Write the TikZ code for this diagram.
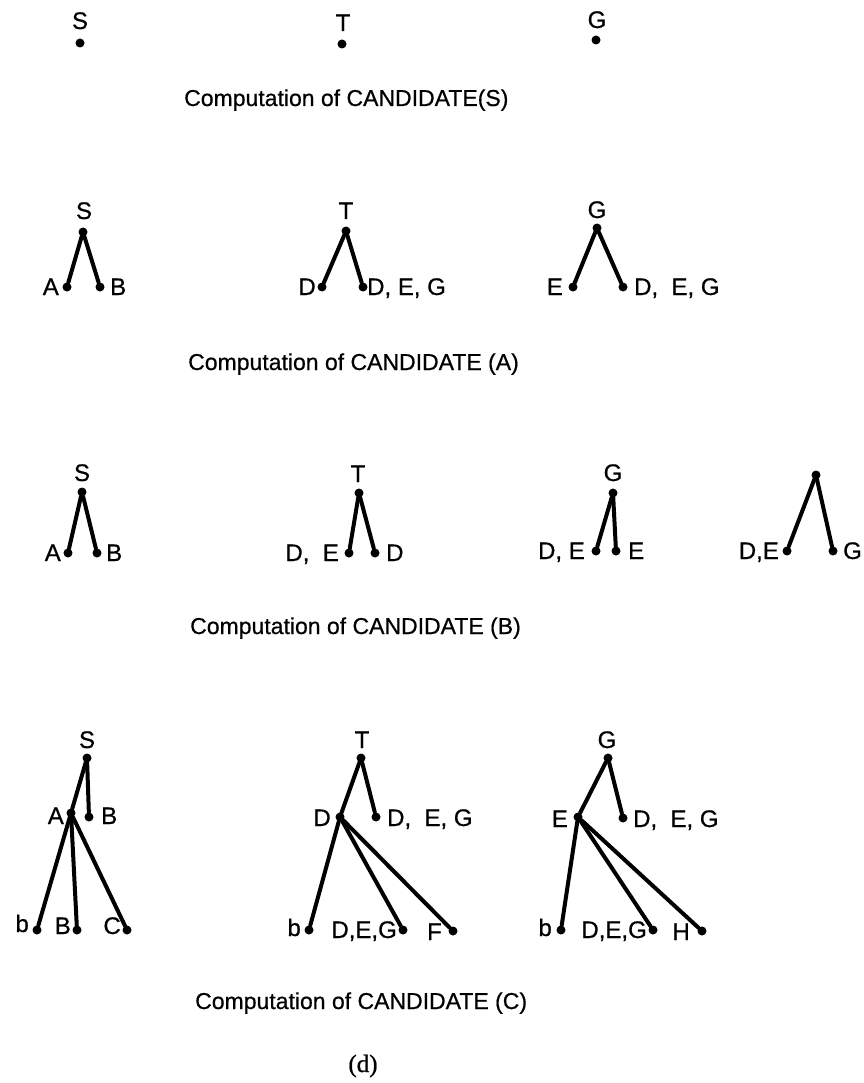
\documentclass[tikz,border=0pt]{standalone}
\usepackage{fontspec}
\setmainfont{Liberation Sans}
\newfontfamily\lblfont{Liberation Sans}[FakeBold=0.6]
\newfontfamily\capserif{Liberation Serif}[FakeBold=0.8]
\tikzset{
  dot/.style={circle, fill=black, inner sep=0pt, minimum size=9pt},
  edge/.style={line width=4pt, line cap=round},
  lbl/.style={font=\lblfont\fontsize{24}{26}\selectfont, inner sep=0pt, anchor=base},
  lbll/.style={lbl, anchor=base east},
  lblr/.style={lbl, anchor=base west},
  captxt/.style={font=\lblfont\fontsize{23}{25}\selectfont, inner sep=0pt, anchor=base west}
}
\begin{document}
\begin{tikzpicture}[x=1pt,y=-1pt]
\useasboundingbox (0,0) rectangle (863,1083);
% ---------- row 1 ----------
\node[dot] (s1) at (80,43) {};
\node[lbl] (s1l) at (80,29) {S};
\node[dot] (t1) at (342,44) {};
\node[lbl] (t1l) at (343,31) {T};
\node[dot] (g1) at (596,40) {};
\node[lbl] (g1l) at (597,28) {G};
\node[captxt] (capS) at (184,106) {Computation of CANDIDATE(S)};
% ---------- row 2 ----------
\node[dot] (s2) at (83,232) {};
\node[lbl] (s2l) at (84,219) {S};
\node[dot] (s2a) at (67,287) {};
\node[dot] (s2b) at (100,287) {};
\node[lbll] (s2al) at (59,295) {A};
\node[lblr] (s2bl) at (110,295) {B};
\draw[edge] (s2) -- (s2a);
\draw[edge] (s2) -- (s2b);
\node[dot] (t2) at (346,231) {};
\node[lbl] (t2l) at (346,219) {T};
\node[dot] (t2a) at (322,287) {};
\node[dot] (t2b) at (363,287) {};
\node[lbll] (t2al) at (316,295) {D};
\node[lblr] (t2bl) at (367,295) {D, E, G};
\draw[edge] (t2) -- (t2a);
\draw[edge] (t2) -- (t2b);
\node[dot] (g2) at (597,228) {};
\node[lbl] (g2l) at (597,218) {G};
\node[dot] (g2a) at (573,287) {};
\node[dot] (g2b) at (623,287) {};
\node[lbll] (g2al) at (563,295) {E};
\node[lblr] (g2bl) at (634,295) {D,\ \ E, G};
\draw[edge] (g2) -- (g2a);
\draw[edge] (g2) -- (g2b);
\node[captxt] (capA) at (188,370) {Computation of CANDIDATE (A)};
% ---------- row 3 ----------
\node[dot] (s3) at (82,492) {};
\node[lbl] (s3l) at (82,481) {S};
\node[dot] (s3a) at (68,553) {};
\node[dot] (s3b) at (97,553) {};
\node[lbll] (s3al) at (61,561) {A};
\node[lblr] (s3bl) at (106,561) {B};
\draw[edge] (s3) -- (s3a);
\draw[edge] (s3) -- (s3b);
\node[dot] (t3) at (359,493) {};
\node[lbl] (t3l) at (358,482) {T};
\node[dot] (t3a) at (349,553) {};
\node[dot] (t3b) at (375,553) {};
\node[lbll] (t3al) at (339,561) {D,\ \ E};
\node[lblr] (t3bl) at (386,561) {D};
\draw[edge] (t3) -- (t3a);
\draw[edge] (t3) -- (t3b);
\node[dot] (g3) at (613,493) {};
\node[lbl] (g3l) at (613,481) {G};
\node[dot] (g3a) at (596,551) {};
\node[dot] (g3b) at (616,551) {};
\node[lbll] (g3al) at (585,559) {D, E};
\node[lblr] (g3bl) at (628,559) {E};
\draw[edge] (g3) -- (g3a);
\draw[edge] (g3) -- (g3b);
\node[dot] (x3) at (816,475) {};
\node[dot] (x3a) at (787,551) {};
\node[dot] (x3b) at (833,551) {};
\node[lbll] (x3al) at (779,559) {D,E};
\node[lblr] (x3bl) at (843,559) {G};
\draw[edge] (x3) -- (x3a);
\draw[edge] (x3) -- (x3b);
\node[captxt] (capB) at (190,634) {Computation of CANDIDATE (B)};
% ---------- row 4 ----------
\node[dot] (s4) at (87,758) {};
\node[lbl] (s4l) at (87,748) {S};
\node[dot] (s4a) at (71,813) {};
\node[dot] (s4b) at (89,817) {};
\node[lbll] (s4al) at (64,824) {A};
\node[lblr] (s4bl) at (101,824) {B};
\node[dot] (s4c) at (37,930) {};
\node[dot] (s4d) at (77,930) {};
\node[dot] (s4e) at (127,930) {};
\node[lbll] (s4cl) at (29,932) {b};
\node[lbll] (s4dl) at (71,934) {B};
\node[lbll] (s4el) at (121,934) {C};
\draw[edge] (s4) -- (s4a);
\draw[edge] (s4) -- (s4b);
\draw[edge] (s4a) -- (s4c);
\draw[edge] (s4a) -- (s4d);
\draw[edge] (s4a) -- (s4e);
\node[dot] (t4) at (361,758) {};
\node[lbl] (t4l) at (362,748) {T};
\node[dot] (t4a) at (340,817) {};
\node[dot] (t4b) at (376,817) {};
\node[lbll] (t4al) at (331,826) {D};
\node[lblr] (t4bl) at (387,826) {D,\ \ E, G};
\node[dot] (t4c) at (309,930) {};
\node[dot] (t4d) at (403,930) {};
\node[dot] (t4e) at (453,931) {};
\node[lbll] (t4cl) at (301,936) {b};
\node[lbll] (t4dl) at (397,938) {D,E,G};
\node[lbll] (t4el) at (442,940) {F};
\draw[edge] (t4) -- (t4a);
\draw[edge] (t4) -- (t4b);
\draw[edge] (t4a) -- (t4c);
\draw[edge] (t4a) -- (t4d);
\draw[edge] (t4a) -- (t4e);
\node[dot] (g4) at (608,758) {};
\node[lbl] (g4l) at (607,748) {G};
\node[dot] (g4a) at (578,817) {};
\node[dot] (g4b) at (623,818) {};
\node[lbll] (g4al) at (568,827) {E};
\node[lblr] (g4bl) at (633,827) {D,\ \ E, G};
\node[dot] (g4c) at (561,930) {};
\node[dot] (g4d) at (653,930) {};
\node[dot] (g4e) at (702,931) {};
\node[lbll] (g4cl) at (552,936) {b};
\node[lbll] (g4dl) at (647,938) {D,E,G};
\node[lbll] (g4el) at (690,940) {H};
\draw[edge] (g4) -- (g4a);
\draw[edge] (g4) -- (g4b);
\draw[edge] (g4a) -- (g4c);
\draw[edge] (g4a) -- (g4d);
\draw[edge] (g4a) -- (g4e);
\node[captxt] (capC) at (195,1009) {Computation of CANDIDATE (C)};
\node[lbl, font=\capserif\fontsize{25}{27}\selectfont] (dlab) at (363,1072) {(d)};
\end{tikzpicture}
\end{document}
